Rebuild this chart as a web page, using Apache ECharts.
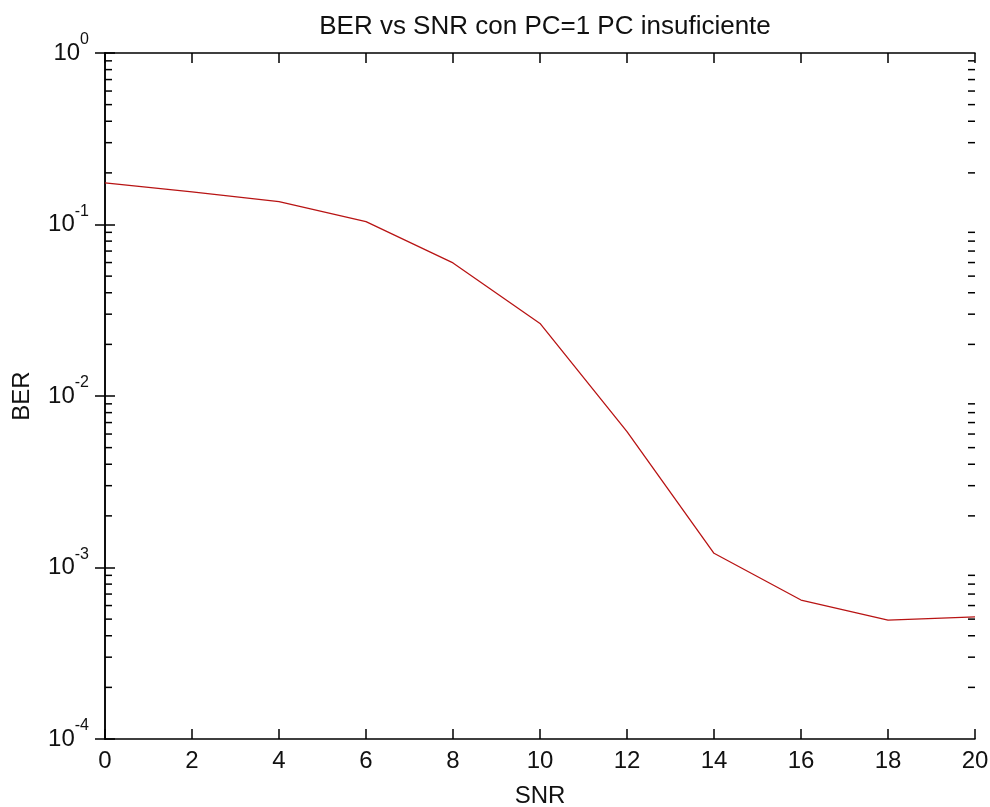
<!DOCTYPE html>
<html><head><meta charset="utf-8">
<script src="https://cdn.jsdelivr.net/npm/echarts@6/dist/echarts.min.js"></script>
<style>html,body{margin:0;padding:0;background:#fff}#c{width:990px;height:807px}</style>
</head><body><div id="c"></div>
<script>
const snr = [0, 2, 4, 6, 8, 10, 12, 14, 16, 18, 20];
const ber = [0.175, 0.155, 0.136, 0.104, 0.0597, 0.0265, 0.0062, 0.00121, 0.000646, 0.000494, 0.000516];
const xTicks = [0, 2, 4, 6, 8, 10, 12, 14, 16, 18, 20];
const yDecades = [1e-4, 1e-3, 1e-2, 1e-1, 1];
const minorMults = [2, 3, 4, 5, 6, 7, 8, 9];
const titleText = 'BER vs SNR con PC=1 PC insuficiente';

const FONT = 'Liberation Sans';
const minorVals = [];
for (let d = 0; d < yDecades.length - 1; d++) for (const m of minorMults) minorVals.push(yDecades[d] * m);

const chart = echarts.init(document.getElementById('c'), null, {renderer: 'canvas'});
const axisLine = {show: true, lineStyle: {color: '#000', width: 1.5}};
const tick = {show: true, inside: true, length: 10, lineStyle: {color: '#000', width: 1.5}};
chart.setOption({
  backgroundColor: '#fff',
  animation: false,
  title: {text: titleText, left: 540, top: 9, textAlign: 'center',
    textStyle: {fontFamily: FONT, fontSize: 26, fontWeight: 'normal', color: '#111'}},
  grid: {left: 105, right: 15, top: 53, bottom: 68, containLabel: false, outerBoundsMode: 'none'},
  xAxis: [{
    type: 'value', min: 0, max: 20, interval: 2,
    name: 'SNR', nameLocation: 'middle', nameGap: 45,
    nameTextStyle: {fontFamily: FONT, fontSize: 24, color: '#111'},
    axisLine: axisLine, axisTick: tick,
    axisLabel: {fontFamily: FONT, fontSize: 24, color: '#111', margin: 10},
    splitLine: {show: false}
  }, {
    type: 'value', min: 0, max: 20, interval: 2, position: 'top',
    axisLine: axisLine, axisTick: tick,
    axisLabel: {show: false}, splitLine: {show: false}
  }],
  yAxis: [{
    type: 'log', logBase: 10, min: 1e-4, max: 1,
    name: 'BER', nameLocation: 'middle', nameGap: 71, nameRotate: 90,
    nameTextStyle: {fontFamily: FONT, fontSize: 24, color: '#111'},
    axisLine: axisLine, axisTick: tick,
    axisLabel: {
      margin: 16,
      formatter: function (v) {
        const e = Math.round(Math.log10(v));
        return '{b|10}{e|' + e + '}';
      },
      rich: {
        b: {fontFamily: FONT, fontSize: 24, color: '#111'},
        e: {fontFamily: FONT, fontSize: 16, color: '#111', padding: [0, 0, 26, 0]}
      }
    },
    splitLine: {show: false}
  }, {
    type: 'log', logBase: 10, min: 1e-4, max: 1, position: 'right',
    axisLine: axisLine, axisTick: tick,
    axisLabel: {show: false}, splitLine: {show: false}
  }],
  series: [{
    type: 'line',
    data: snr.map((x, i) => [x, ber[i]]),
    xAxisIndex: 0, yAxisIndex: 0,
    showSymbol: false, symbol: 'none',
    lineStyle: {color: '#b81414', width: 1.3},
    z: 3
  }, {
    type: 'custom',
    xAxisIndex: 0, yAxisIndex: 0,
    data: minorVals.map(v => [0, v]),
    silent: true,
    clip: false,
    renderItem: function (params, api) {
      const v = api.value(1);
      const pl = api.coord([0, v]);
      const pr = api.coord([20, v]);
      const st = {stroke: '#000', lineWidth: 1.5};
      return {type: 'group', children: [
        {type: 'line', shape: {x1: pl[0], y1: pl[1], x2: pl[0] + 7, y2: pl[1]}, style: st},
        {type: 'line', shape: {x1: pr[0], y1: pr[1], x2: pr[0] - 7, y2: pr[1]}, style: st}
      ]};
    },
    z: 4
  }]
});
</script></body></html>
